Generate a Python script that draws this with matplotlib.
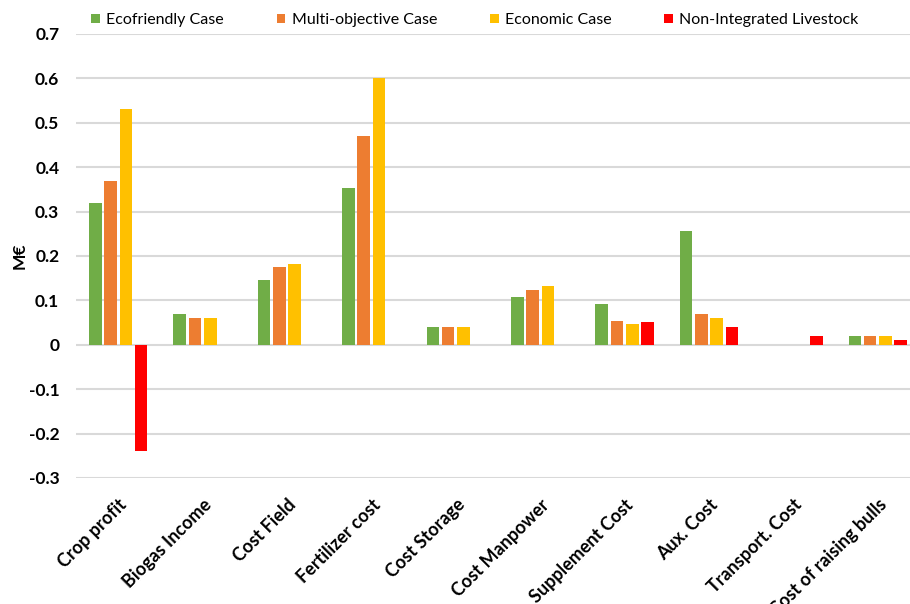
import numpy as np
import matplotlib
matplotlib.use('Agg')
import matplotlib.pyplot as plt

plt.rcParams['font.family'] = ['Lato', 'DejaVu Sans']

categories = ['Crop profit', 'Biogas Income', 'Cost Field', 'Fertilizer cost', 'Cost Storage',
              'Cost Manpower', 'Supplement Cost', 'Aux. Cost', 'Transport. Cost', 'Cost of raising bulls']
series_names = ['Ecofriendly Case', 'Multi-objective Case', 'Economic Case', 'Non-Integrated Livestock']
ecofriendly = [0.32, 0.07, 0.146, 0.354, 0.041, 0.108, 0.091, 0.256, 0.0, 0.02]
multi_objective = [0.37, 0.061, 0.176, 0.47, 0.041, 0.124, 0.053, 0.07, 0.0, 0.02]
economic = [0.53, 0.06, 0.182, 0.6, 0.041, 0.132, 0.047, 0.061, 0.0, 0.02]
non_integrated = [-0.24, 0.0, 0.0, 0.0, 0.0, 0.0, 0.051, 0.04, 0.02, 0.01]
colors = ['#70AD47', '#ED7D31', '#FFC000', '#FF0000']
yticks = [-0.3, -0.2, -0.1, 0, 0.1, 0.2, 0.3, 0.4, 0.5, 0.6, 0.7]

fig = plt.figure(figsize=(9.1, 6.04), dpi=100)
ax = fig.add_axes([76 / 910, 126 / 604, 844 / 910, 444 / 604])

x = np.arange(len(categories))
step = 0.181
handles = []
for i, (vals, name, c) in enumerate(zip([ecofriendly, multi_objective, economic, non_integrated],
                                        series_names, colors)):
    v = np.array(vals, dtype=float)
    v[v == 0] = np.nan  # zero values are not drawn
    b = ax.bar(x + (i - 1.5) * step, v, width=0.15, color=c, zorder=3, label=name)
    handles.append(b)

ax.set_xlim(-0.5, len(categories) - 0.5)
ax.set_ylim(-0.3, 0.7)
ax.set_yticks(yticks)
ax.set_yticklabels(['0' if t == 0 else f'{t:g}' for t in yticks], fontsize=12.5, fontweight='bold')
ax.yaxis.grid(True, color='#d9d9d9', linewidth=1.5, zorder=0)
ax.set_axisbelow(True)
for s in ax.spines.values():
    s.set_visible(False)
ax.tick_params(axis='both', length=0)
ax.tick_params(axis='y', pad=12)
ax.tick_params(axis='x', pad=13)
ax.set_xticks(x)
ax.set_xticklabels(categories, fontsize=13, fontweight='bold',
                   rotation=45, ha='right', va='top', rotation_mode='anchor')
ax.set_ylabel('M€', fontsize=12.5, fontweight='bold', labelpad=1)

fig.legend(handles=handles, loc='center left', bbox_to_anchor=(91 / 910, 1 - 20 / 604), ncol=4,
           frameon=False, fontsize=11.5, handlelength=0.55, handleheight=0.55,
           handletextpad=0.4, columnspacing=3.3, borderpad=0, borderaxespad=0)

fig.savefig('out.png', dpi=100)
